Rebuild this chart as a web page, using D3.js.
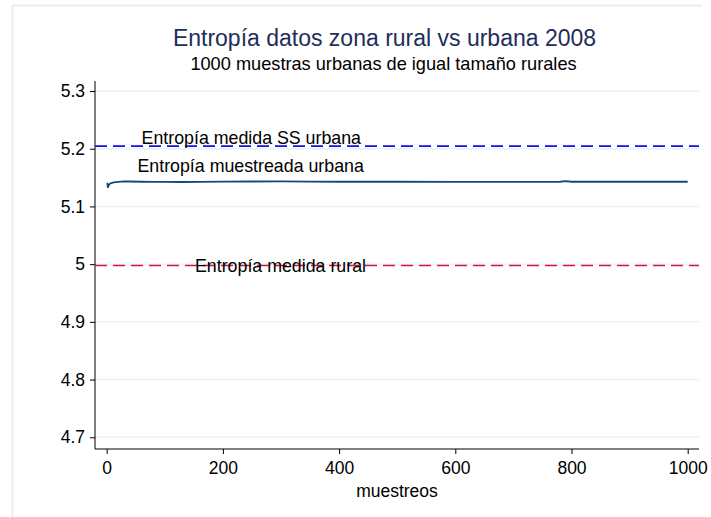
<!DOCTYPE html>
<html>
<head>
<meta charset="utf-8">
<script src="https://cdn.jsdelivr.net/npm/d3@7"></script>
<style>
html,body{margin:0;padding:0;background:#fff;}
svg{display:block;font-family:"Liberation Sans",Arial,sans-serif;}
</style>
</head>
<body>
<svg id="chart" width="711" height="517"></svg>
<script>
// ---- data ----
const sampleX = [1, 2, 3, 5, 8, 12, 20, 30, 40, 60, 80, 100, 130, 160, 200, 250, 300, 350, 400, 500, 600, 700, 780, 790, 800, 900, 1000];
const sampleY = [5.141, 5.1325, 5.136, 5.139, 5.1405, 5.1415, 5.1425, 5.1435, 5.1432, 5.1428, 5.1425, 5.1427, 5.1423, 5.1425, 5.143, 5.1432, 5.1433, 5.143, 5.1428, 5.1428, 5.1427, 5.1427, 5.1428, 5.1438, 5.1428, 5.1428, 5.1428];
const refUrbana = 5.2045;
const refRural = 4.9976;
const yTicks = [4.7, 4.8, 4.9, 5, 5.1, 5.2, 5.3];
const xTicks = [0, 200, 400, 600, 800, 1000];
const labelTexts = ["Entropía medida SS urbana", "Entropía muestreada urbana", "Entropía medida rural"];
const labelX = [60, 53, 152];
const labelY = [5.2045, 5.157, 4.9976];
const title = "Entropía datos zona rural vs urbana 2008";
const subtitle = "1000 muestras urbanas de igual tamaño rurales";
const xTitle = "muestreos";

// ---- drawing ----
const svg = d3.select("#chart");
const plot = {left: 95, right: 699, top: 81, bottom: 449};

const x = d3.scaleLinear().domain([0, 1000]).range([106.7, 687.7]);
const y = d3.scaleLinear().domain([4.7, 5.3]).range([437.3, 91]);

// outer light frame
svg.append("line").attr("x1", 12).attr("x2", 702).attr("y1", 5.5).attr("y2", 5.5)
  .attr("stroke", "#e6eef0").attr("stroke-width", 2);
svg.append("line").attr("x1", 12.5).attr("x2", 12.5).attr("y1", 5).attr("y2", 517)
  .attr("stroke", "#e6eef0").attr("stroke-width", 2);

// gridlines
svg.append("g").selectAll("line").data(yTicks).join("line")
  .attr("x1", plot.left).attr("x2", plot.right)
  .attr("y1", d => y(d)).attr("y2", d => y(d))
  .attr("stroke", "#eaf2f3").attr("stroke-width", 1.5);

// axes
const yAxis = d3.axisLeft(y).tickValues(yTicks).tickSize(5).tickPadding(5)
  .tickFormat(d => String(+d.toFixed(1)));
const gy = svg.append("g").attr("transform", `translate(${plot.left},0)`).call(yAxis);
gy.select(".domain").remove();
gy.append("line").attr("x1", 0).attr("x2", 0).attr("y1", plot.top).attr("y2", plot.bottom)
  .attr("stroke", "#000").attr("stroke-width", 1);

const xAxis = d3.axisBottom(x).tickValues(xTicks).tickSize(5).tickPadding(8)
  .tickFormat(d => String(d));
const gx = svg.append("g").attr("transform", `translate(0,${plot.bottom})`).call(xAxis);
gx.select(".domain").remove();
gx.append("line").attr("x1", plot.left).attr("x2", plot.right).attr("y1", 0).attr("y2", 0)
  .attr("stroke", "#000").attr("stroke-width", 1);

svg.selectAll(".tick line").attr("stroke", "#000");
svg.selectAll(".tick text").attr("font-size", 17.5).attr("fill", "#000")
  .attr("font-family", "Liberation Sans, Arial, sans-serif");

// reference lines
svg.append("line").attr("x1", plot.left).attr("x2", plot.right)
  .attr("y1", y(refUrbana)).attr("y2", y(refUrbana))
  .attr("stroke", "#1010f5").attr("stroke-width", 1.6).attr("stroke-dasharray", "12,6");
svg.append("line").attr("x1", plot.left).attr("x2", plot.right)
  .attr("y1", y(refRural)).attr("y2", y(refRural))
  .attr("stroke", "#d4144a").attr("stroke-width", 1.6).attr("stroke-dasharray", "12,6");

// series line
const pts = sampleX.map((d, i) => [d, sampleY[i]]);
svg.append("path").datum(pts)
  .attr("fill", "none").attr("stroke", "#1a476f").attr("stroke-width", 1.8)
  .attr("d", d3.line().x(d => x(d[0])).y(d => y(d[1])));

// text labels
svg.append("g").selectAll("text").data(labelTexts).join("text")
  .attr("x", (d, i) => x(labelX[i]))
  .attr("y", (d, i) => y(labelY[i]) - (i === 2 ? -6 : 2))
  .attr("font-size", 17.8).attr("fill", "#000")
  .text(d => d);

// titles
svg.append("text").attr("x", 384.5).attr("y", 46).attr("text-anchor", "middle")
  .attr("font-size", 23).attr("fill", "#1e2d5a").text(title);
svg.append("text").attr("x", 383.5).attr("y", 70).attr("text-anchor", "middle")
  .attr("font-size", 18.2).attr("fill", "#000").text(subtitle);
svg.append("text").attr("x", 397).attr("y", 497).attr("text-anchor", "middle")
  .attr("font-size", 17.5).attr("fill", "#000").text(xTitle);
</script>
</body>
</html>
